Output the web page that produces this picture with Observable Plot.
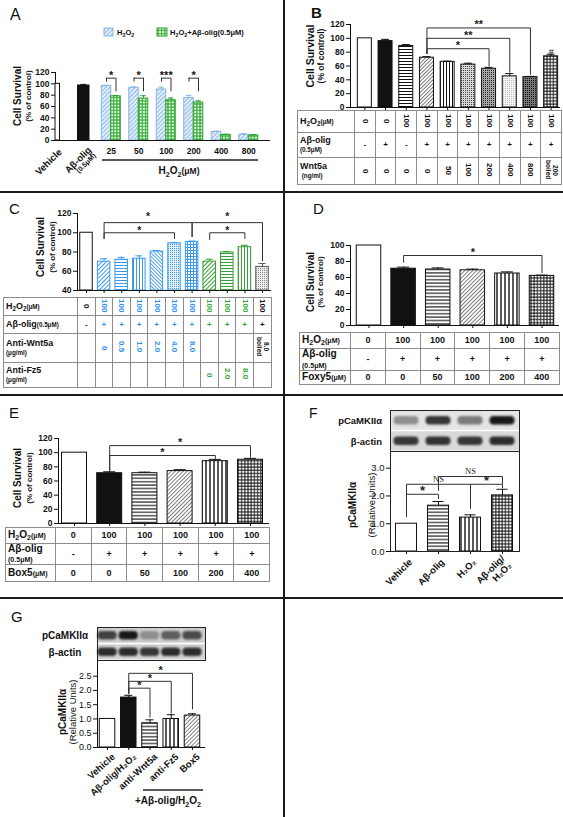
<!DOCTYPE html>
<html>
<head>
<meta charset="utf-8">
<script src="https://cdn.jsdelivr.net/npm/d3@7"></script>
<script src="https://cdn.jsdelivr.net/npm/@observablehq/plot@0.6"></script>
<style>
html, body { margin: 0; padding: 0; background: #fff; }
#fig { position: relative; width: 563px; height: 817px; overflow: hidden; background: #fff; font-family: "Liberation Sans", Arial, Helvetica, sans-serif; }
#fig > svg, #fig > table, #fig > div { position: absolute; }
table.t { border-collapse: collapse; table-layout: fixed; font-weight: bold; color: #111; }
table.t td { border: 1px solid #8c8c8c; padding: 0; text-align: center; vertical-align: middle; line-height: 1; white-space: nowrap; overflow: hidden; }
table.t td.lab { text-align: left; padding-left: 2px; font-size: 1.12em; }
table.t .u { font-size: 0.7em; }
table.t sub { font-size: 0.7em; vertical-align: -0.25em; line-height: 0; }
.v { writing-mode: vertical-rl; display: inline-block; }
.v.sm { font-size: 0.82em; line-height: 1; }
</style>
</head>
<body>
<div id="fig"></div>
<script>
// ================= DATA =================
// Panel A
const aGroups = ["Vehicle", "Aβ-olig", "25", "50", "100", "200", "400", "800"];
const aDoses = ["25", "50", "100", "200", "400", "800"];
const aControl = [100, 97];
const aControlErr = [0, 2];
const aH2O2 = [96, 93, 90, 75, 15, 10];
const aH2O2Err = [1.5, 1.5, 4, 4.5, 1.5, 2];
const aCombo = [78, 74, 71, 67, 10, 9];
const aComboErr = [1.5, 5, 4, 3, 1, 1.5];
const aSigDoses = ["25", "50", "100", "200"];
const aSigLabels = ["*", "*", "***", "*"];
const aBracketTop = 110, aBracketLeft = 103, aBracketRight = 86;
const aYTicks = [0, 20, 40, 60, 80, 100, 120];

// Panel B
const bIds = ["b1", "b2", "b3", "b4", "b5", "b6", "b7", "b8", "b9", "b10"];
const bValues = [100, 96, 89, 72, 66, 62, 56, 45, 44, 74];
const bErrors = [0, 2.5, 2, 1.5, 1, 2, 2, 4, 1, 3];
const bH2O2 = ["0", "0", "100", "100", "100", "100", "100", "100", "100", "100"];
const bAbeta = ["-", "+", "-", "+", "+", "+", "+", "+", "+", "+"];
const bWnt5a = ["0", "0", "0", "0", "50", "100", "200", "400", "800", "200\nboiled"];
const bSig = [
  {from: 3, to: 6, top: 85, left: 78, right: 60, label: "*"},
  {from: 3, to: 7, top: 100, left: 78, right: 51, label: "**"},
  {from: 3, to: 8, top: 115, left: 78, right: 48, label: "**"}
];
const bHashBar = 9, bHashY = 80;
const bYTicks = [0, 20, 40, 60, 80, 100, 120];

// Panel C
const cIds = ["c1", "c2", "c3", "c4", "c5", "c6", "c7", "c8", "c9", "c10", "c11"];
const cValues = [100, 70, 72, 73, 80.5, 89, 90.5, 70, 79.5, 85, 64.5];
const cErrors = [0, 3, 2.5, 3, 1, 0.8, 0.8, 2.5, 1, 2, 3.5];
const cH2O2 = ["0", "100", "100", "100", "100", "100", "100", "100", "100", "100", "100"];
const cAbeta = ["-", "+", "+", "+", "+", "+", "+", "+", "+", "+", "+"];
const cAntiWnt5a = ["", "0", "0.5", "1.0", "2.0", "4.0", "8.0", "", "", "", "8.0\nboiled"];
const cAntiFz5 = ["", "", "", "", "", "", "", "0", "2.0", "8.0", ""];
const cSig = [
  {from: 1, to: 6, top: 110.5, left: 94, right: 96, label: "*"},
  {from: 1, to: 5, top: 100, left: 94, right: 94, label: "*"},
  {from: 6, to: 10, top: 110.5, left: 96, right: 71, label: "*"},
  {from: 7, to: 9, top: 100, left: 93, right: 94, label: "*"}
];
const cYTicks = [40, 60, 80, 100, 120];

// Panel D
const dIds = ["d1", "d2", "d3", "d4", "d5", "d6"];
const dValues = [100, 71, 70, 69, 65, 62];
const dErrors = [0, 2, 2, 1.5, 2, 1];
const dH2O2 = ["0", "100", "100", "100", "100", "100"];
const dAbeta = ["-", "+", "+", "+", "+", "+"];
const dFoxy5 = ["0", "0", "50", "100", "200", "400"];
const dSig = [{from: 1, to: 5, top: 87.5, left: 79, right: 66, label: "*"}];
const dYTicks = [0, 20, 40, 60, 80, 100];

// Panel E
const eIds = ["e1", "e2", "e3", "e4", "e5", "e6"];
const eValues = [100, 71, 71, 74, 88, 90];
const eErrors = [0, 2, 1.5, 2, 2.5, 2];
const eH2O2 = ["0", "100", "100", "100", "100", "100"];
const eAbeta = ["-", "+", "+", "+", "+", "+"];
const eBox5 = ["0", "0", "50", "100", "200", "400"];
const eSig = [
  {from: 1, to: 5, top: 110, left: 75, right: 94, label: "*"},
  {from: 1, to: 4, top: 96, left: 75, right: 92, label: "*"}
];
const eYTicks = [0, 20, 40, 60, 80, 100, 120];

// Panel F
const fGroups = ["Vehicle", "Aβ-olig", "H₂O₂", "Aβ-olig/\nH₂O₂"];
const fValues = [1.0, 1.65, 1.22, 2.02];
const fErrors = [0, 0.15, 0.1, 0.22];
const fBlotP = [0.35, 0.8, 0.45, 0.95];
const fBlotActin = [0.8, 0.82, 0.8, 0.85];
const fSig = [
  {from: 0, to: 1, top: 2.06, left: 1.35, right: 1.9, label: "*"},
  {from: 0, to: 2, top: 2.42, left: 1.25, right: 1.55, label: "NS"},
  {from: 1, to: 3, top: 2.7, left: 2.2, right: 2.45, label: "NS"},
  {from: 2, to: 3, top: 2.42, left: 1.6, right: 2.3, label: "*"}
];
const fYTicks = [0, 1, 2, 3];

// Panel G
const gGroups = ["Vehicle", "Aβ-olig/H₂O₂", "anti-Wnt5a", "anti-Fz5", "Box5"];
const gValues = [1.0, 1.75, 0.85, 1.0, 1.12];
const gErrors = [0, 0.08, 0.12, 0.15, 0.06];
const gBlotP = [0.75, 0.95, 0.35, 0.6, 0.7];
const gBlotActin = [0.85, 0.85, 0.8, 0.85, 0.85];
const gSig = [
  {from: 1, to: 2, top: 2.08, left: 1.9, right: 1.06, label: "*"},
  {from: 1, to: 3, top: 2.32, left: 1.9, right: 1.2, label: "*"},
  {from: 1, to: 4, top: 2.6, left: 1.9, right: 1.35, label: "*"}
];
const gYTicks = [0, 0.5, 1, 1.5, 2, 2.5];

// ================= STYLES =================
const FONT = '"Liberation Sans", Arial, Helvetica, sans-serif';
const SERIF = '"Liberation Serif", "Times New Roman", serif';
const K = "#111", BLUE = "#3a9af0", GREEN = "#38a038", ABLUE = "#86b6e6", AGREEN = "#2ea02e";
const TBLUE = "#2d8fec", TGREEN = "#35a535";
const bFills = ["#fff", K, "url(#hl)", "url(#dg)", "url(#vl)", "url(#dot1)", "url(#dot2)", "url(#dot3)", "url(#dot4)", "url(#chk)"];
const cFills = ["#fff", "url(#cB1)", "url(#cB2)", "url(#cB3)", "url(#cB4)", "url(#cB5)", "url(#cB6)", "url(#cG1)", "url(#cG2)", "url(#cG3)", "url(#cGr)"];
const cStrokes = [K, BLUE, BLUE, BLUE, BLUE, BLUE, BLUE, GREEN, GREEN, GREEN, "#555"];
const cTextColors = [K, TBLUE, TBLUE, TBLUE, TBLUE, TBLUE, TBLUE, TGREEN, TGREEN, TGREEN, K];
const cStarDy = [-6.5, -2.5, -6.5, -2.5];
const deFills = ["#fff", K, "url(#hl4)", "url(#dgL)", "url(#vl4)", "url(#chk)"];
const fFills = ["#fff", "url(#hl4)", "url(#vl4)", "url(#chk)"];
const gFills = ["#fff", K, "url(#hl4)", "url(#vl4)", "url(#dgL)"];

const fig = document.getElementById("fig");
function place(node, left, top) { node.style.position = "absolute"; node.style.left = left + "px"; node.style.top = top + "px"; fig.appendChild(node); return node; }
const baseStyle = (extra = {}) => ({fontFamily: FONT, fontSize: "8.5px", fontWeight: "bold", color: "#111", background: "none", overflow: "visible", ...extra});

// ---------- patterns ----------
const P = [];
const lines = (id, {size = 3, angle = 0, color = K, width = 1, bg = "#fff"} = {}) => P.push(`<pattern id="${id}" patternUnits="userSpaceOnUse" width="${size}" height="${size}" patternTransform="rotate(${angle})"><rect width="${size}" height="${size}" fill="${bg}"/><line x1="-1" y1="${size / 2}" x2="${size + 1}" y2="${size / 2}" stroke="${color}" stroke-width="${width}"/></pattern>`);
const grid = (id, {size = 3, color = K, width = 1, bg = "#fff"} = {}) => P.push(`<pattern id="${id}" patternUnits="userSpaceOnUse" width="${size}" height="${size}"><rect width="${size}" height="${size}" fill="${bg}"/><path d="M0 ${size / 2}H${size}M${size / 2} 0V${size}" stroke="${color}" stroke-width="${width}" fill="none"/></pattern>`);
const dots = (id, {size = 2, color = K, d = 1, bg = "#fff"} = {}) => P.push(`<pattern id="${id}" patternUnits="userSpaceOnUse" width="${size}" height="${size}"><rect width="${size}" height="${size}" fill="${bg}"/><rect width="${d}" height="${d}" fill="${color}"/></pattern>`);
lines("aBlue", {angle: -45, color: "#8fbbe8", width: 1, bg: "#e3eefa", size: 3});
grid("aGreen", {color: "#30b030", width: 1.3, size: 3.2});
lines("hl", {size: 3, width: 1});
lines("hl4", {size: 3.4, width: 1.1});
lines("dg", {angle: -45, color: "#444", width: 0.7, size: 2.6});
lines("dgL", {angle: -45, color: "#555", width: 0.75, size: 2.8});
lines("vl", {angle: 90, size: 3, width: 1});
lines("vl4", {angle: 90, size: 4, width: 1.4});
dots("dot1", {color: "#444", bg: "#d8d8d8"});
dots("dot2", {color: "#222", bg: "#a8a8a8"});
dots("dot3", {color: "#bbb", bg: "#f4f4f4"});
dots("dot4", {color: "#111", bg: "#777"});
grid("chk", {size: 3.2, width: 1});
lines("cB1", {angle: -45, color: BLUE, size: 3});
lines("cB2", {color: BLUE, size: 3});
lines("cB3", {angle: 90, color: BLUE, size: 3});
lines("cB4", {angle: 45, color: BLUE, size: 2.6, width: 0.9});
dots("cB5", {color: BLUE, bg: "#e3f0fc"});
grid("cB6", {color: BLUE, size: 3});
lines("cG1", {angle: -45, color: GREEN, size: 3});
lines("cG2", {color: GREEN, size: 3});
lines("cG3", {angle: 90, color: GREEN, size: 3});
dots("cGr", {color: "#888", bg: "#efefef"});
fig.insertAdjacentHTML("beforeend", `<svg width="0" height="0" style="position:absolute;left:0;top:0"><defs>${P.join("")}</defs></svg>`);

// ---------- generic bar chart ----------
function barChart(o) {
  const n = o.ids.length;
  const step = (o.range[1] - o.range[0]) / n;
  const p = 1 - o.bw / step;
  const data = o.ids.map((id, i) => ({id, v: o.values[i], e: o.errors[i], fill: o.fills[i], stroke: o.strokes[i]}));
  const errs = data.filter(d => d.e > 0);
  const capIn = (o.bw - o.capW) / 2;
  const base = o.y.domain[0];
  const sig = o.sig || [];
  const pts = sig.flatMap((s, k) => [
    {k, x: o.ids[s.from], y: s.left}, {k, x: o.ids[s.from], y: s.top},
    {k, x: o.ids[s.to], y: s.top}, {k, x: o.ids[s.to], y: s.right}]);
  const sigText = sig.map((s, k) => {
    const ns = s.label === "NS";
    const dy = o.starDys ? o.starDys[k] : (ns ? -5 : (o.starDy ?? -3));
    return Plot.text([s], {x: () => o.ids[s.from], y: "top", text: "label", dx: (s.to - s.from) * step / 2,
      dy, fontSize: ns ? 8.5 : (o.starSize || 11), fontFamily: ns ? SERIF : FONT,
      fontWeight: ns ? "normal" : "bold", fill: "#222"});
  });
  return Plot.plot({
    width: o.W, height: o.H,
    marginTop: o.m[0], marginRight: o.m[1], marginBottom: o.m[2], marginLeft: o.m[3],
    style: baseStyle(o.style),
    x: {type: "band", domain: o.ids, range: o.range, paddingInner: p, paddingOuter: p / 2, align: 0.5, round: false, tickSize: 3, tickFormat: () => "", label: null},
    y: {domain: o.y.domain, ticks: o.y.ticks, tickFormat: o.y.format, tickSize: 4, tickPadding: 2, line: true, label: null},
    color: {type: "identity"},
    marks: [
      Plot.barY(data, {x: "id", y1: () => base, y2: "v", fill: "fill", stroke: "stroke", strokeWidth: 1}),
      Plot.ruleX(errs, {x: "id", y1: "v", y2: d => d.v + d.e, stroke: "stroke", strokeWidth: 1}),
      Plot.tickY(errs, {x: "id", y: d => d.v + d.e, stroke: "stroke", strokeWidth: 1, insetLeft: capIn, insetRight: capIn}),
      Plot.line(pts, {x: "x", y: "y", z: "k", stroke: "#333", strokeWidth: 1}),
      ...sigText,
      Plot.ruleY([base], {stroke: K, strokeWidth: 1.2}),
      ...(o.frame ? [Plot.frame({stroke: "#222"})] : []),
      ...(o.extra ? o.extra(data, step) : [])
    ]
  });
}

// ---------- blot ----------
function blot(o) {
  const rows = ["pCaMKIIα", "β-actin"];
  const bands = o.lanes.flatMap((l, i) => [{lane: l, row: rows[0], v: o.p[i]}, {lane: l, row: rows[1], v: o.a[i]}]);
  const svg = Plot.plot({
    width: o.W, height: o.H, marginTop: o.m[0], marginRight: o.m[1], marginBottom: o.m[2], marginLeft: o.m[3],
    style: baseStyle(),
    x: {type: "band", domain: o.lanes, range: o.range, padding: 0, round: false, axis: null},
    y: {type: "band", domain: rows, padding: 0, round: false, axis: null},
    color: {type: "linear", domain: [0, 1], range: ["#d4d4d4", "#0e0e0e"]},
    marks: [
      Plot.cell([rows[0]], {y: d => d, fill: o.pBg, insetTop: 0.5, insetBottom: 0.75}),
      Plot.cell([rows[1]], {y: d => d, fill: o.aBg, insetTop: 0.75, insetBottom: 0.5}),
      Plot.cell(bands, {x: "lane", y: "row", fill: "v", insetLeft: o.ix, insetRight: o.ix, insetTop: o.iy, insetBottom: o.iy, rx: 4}),
      Plot.frame({stroke: "#222"})
    ]
  });
  const gs = svg.querySelectorAll('g[aria-label="cell"]');
  if (gs.length) gs[gs.length - 1].style.filter = "blur(0.9px)";
  return svg;
}

// ---------- tables ----------
function table(o) {
  const t = document.createElement("table");
  t.className = "t";
  const n = o.rows[0].cells.length;
  t.style.width = (o.labelW + n * o.colW) + "px";
  t.style.fontSize = o.fontSize + "px";
  let html = `<colgroup><col style="width:${o.labelW}px">` + Array(n).fill(`<col style="width:${o.colW}px">`).join("") + `</colgroup>`;
  for (const r of o.rows) {
    html += `<tr style="height:${r.h}px"><td class="lab">${r.label}</td>` + r.cells.map((c, i) => {
      const col = o.colors ? o.colors[i] : K;
      let inner = c;
      if (c.includes("\n")) inner = `<span class="v sm">${c.replace("\n", "<br>")}</span>`;
      else if (r.rotate && c) inner = `<span class="v">${c}</span>`;
      return `<td style="color:${col}">${inner}</td>`;
    }).join("") + `</tr>`;
  }
  t.innerHTML = html;
  return place(t, o.left, o.top);
}
const H2O2html = `H<sub>2</sub>O<sub>2</sub><span class="u">(μM)</span>`;

// ================= PANEL A =================
(function () {
  const step = 27.5, bw = 19, half = bw / 4, capW = 5.5;
  const p = 1 - bw / step;
  const ctrl = aControl.map((v, i) => ({g: aGroups[i], v, e: aControlErr[i]}));
  const h = aDoses.map((g, i) => ({g, v: aH2O2[i], e: aH2O2Err[i]}));
  const c = aDoses.map((g, i) => ({g, v: aCombo[i], e: aComboErr[i]}));
  const sig = aSigDoses.map((g, i) => ({g, label: aSigLabels[i]}));
  const ctrlErr = ctrl.filter(d => d.e > 0);
  const svg = Plot.plot({
    width: 281, height: 191, marginLeft: 55, marginRight: 11, marginTop: 72, marginBottom: 51,
    style: baseStyle(),
    x: {type: "band", domain: aGroups, range: [42, 262], paddingInner: p, paddingOuter: p / 2, round: false, tickSize: 0, tickPadding: 7, tickFormat: d => aDoses.includes(d) ? d : "", label: null},
    y: {domain: [0, 120], ticks: aYTicks, tickSize: 4, tickPadding: 2, line: true, label: null},
    marks: [
      Plot.barY(ctrl.slice(0, 1), {x: "g", y: "v", fill: "#fff", stroke: K, insetLeft: 8.75, insetRight: 5.75}),
      Plot.barY(ctrl.slice(1), {x: "g", y: "v", fill: K, stroke: K, insetLeft: 3.75, insetRight: 3.75}),
      Plot.ruleX(ctrlErr, {x: "g", y1: "v", y2: d => d.v + d.e, stroke: K}),
      Plot.tickY(ctrlErr, {x: "g", y: d => d.v + d.e, stroke: K, insetLeft: 6.5, insetRight: 6.5}),
      Plot.barY(h, {x: "g", y: "v", fill: "url(#aBlue)", stroke: ABLUE, insetRight: bw / 2}),
      Plot.barY(c, {x: "g", y: "v", fill: "url(#aGreen)", stroke: AGREEN, insetLeft: bw / 2}),
      Plot.ruleX(h, {x: "g", y1: "v", y2: d => d.v + d.e, stroke: ABLUE, dx: -half}),
      Plot.tickY(h, {x: "g", y: d => d.v + d.e, stroke: ABLUE, insetLeft: half - capW / 2, insetRight: bw - half - capW / 2}),
      Plot.ruleX(c, {x: "g", y1: "v", y2: d => d.v + d.e, stroke: AGREEN, dx: half}),
      Plot.tickY(c, {x: "g", y: d => d.v + d.e, stroke: AGREEN, insetLeft: bw - half - capW / 2, insetRight: half - capW / 2}),
      Plot.ruleX(sig, {x: "g", y1: aBracketLeft, y2: aBracketTop, dx: -half, stroke: "#333"}),
      Plot.ruleX(sig, {x: "g", y1: aBracketRight, y2: aBracketTop, dx: half, stroke: "#333"}),
      Plot.tickY(sig, {x: "g", y: aBracketTop, insetLeft: half, insetRight: half, stroke: "#333"}),
      Plot.text(sig, {x: "g", y: aBracketTop, text: "label", dy: -3, fontSize: 11, fontWeight: "bold"}),
      Plot.ruleY([0], {stroke: K, strokeWidth: 1.2}),
      Plot.text([aGroups[0]], {x: d => d, y: () => 0, text: d => d, rotate: -45, textAnchor: "end", dx: 4, dy: 10, fontSize: 9.5, fontWeight: "bold"}),
      Plot.text([aGroups[1]], {x: d => d, y: () => 0, text: d => d, rotate: -45, textAnchor: "end", dx: 6, dy: 8, fontSize: 9.5, fontWeight: "bold"}),
      Plot.text([aGroups[1]], {x: d => d, y: () => 0, text: () => "(0.5μM)", rotate: -45, textAnchor: "end", dx: 11, dy: 14, fontSize: 7, fontWeight: "bold"})
    ]
  });
  place(svg, 0, 0);
})();

// ================= PANEL B =================
place(barChart({
  ids: bIds, values: bValues, errors: bErrors, fills: bFills, strokes: bIds.map(() => K),
  W: 280, H: 192, m: [24, 3, 85, 67], range: [71, 278], bw: 14, capW: 8,
  y: {domain: [0, 120], ticks: bYTicks}, sig: bSig, starSize: 11,
  extra: () => [Plot.text([bIds[bHashBar]], {x: d => d, y: () => bHashY, text: () => "#", fontSize: 9, fontWeight: "normal"})]
}), 283, 0);
table({left: 297, top: 110, labelW: 57, colW: 20.7, fontSize: 8, rows: [
  {label: H2O2html, h: 22, cells: bH2O2, rotate: true},
  {label: `Aβ-olig<br><span class="u">(0.5μM)</span>`, h: 25, cells: bAbeta},
  {label: `Wnt5a<br><span class="u">&nbsp;(ng/ml)</span>`, h: 27, cells: bWnt5a, rotate: true}
]});

// ================= PANEL C =================
place(barChart({
  ids: cIds, values: cValues, errors: cErrors, fills: cFills, strokes: cStrokes,
  W: 281, H: 202, m: [21, 10, 104, 77], range: [77.2, 270.8], bw: 12.5, capW: 7,
  y: {domain: [40, 120], ticks: cYTicks}, sig: cSig, starSize: 10.5, starDys: cStarDy
}), 0, 192);
table({left: 3, top: 297, labelW: 74, colW: 17.6, fontSize: 8, colors: cTextColors, rows: [
  {label: H2O2html, h: 18, cells: cH2O2, rotate: true},
  {label: `Aβ-olig<span class="u">(0.5μM)</span>`, h: 18, cells: cAbeta},
  {label: `Anti-Wnt5a<br><span class="u">(μg/ml)</span>`, h: 29, cells: cAntiWnt5a, rotate: true},
  {label: `Anti-Fz5<br><span class="u">(μg/ml)</span>`, h: 25, cells: cAntiFz5, rotate: true}
]});

// ================= PANEL D =================
place(barChart({
  ids: dIds, values: dValues, errors: dErrors, fills: deFills, strokes: dIds.map(() => K),
  W: 280, H: 201, m: [52, 4, 69, 67], range: [68.2, 275.8], bw: 24.5, capW: 12,
  y: {domain: [0, 100], ticks: dYTicks}, sig: dSig, starSize: 11
}), 283, 193);
table({left: 299, top: 332, labelW: 51, colW: 34.8, fontSize: 9, rows: [
  {label: H2O2html, h: 16, cells: dH2O2},
  {label: `Aβ-olig<br><span class="u">(0.5μM)</span>`, h: 22, cells: dAbeta},
  {label: `Foxy5<span class="u">(μM)</span>`, h: 14, cells: dFoxy5}
]});

// ================= PANEL E =================
place(barChart({
  ids: eIds, values: eValues, errors: eErrors, fills: deFills, strokes: eIds.map(() => K),
  W: 281, H: 203, m: [43, 12, 75, 58], range: [56.4, 267.6], bw: 25, capW: 12,
  y: {domain: [0, 120], ticks: eYTicks}, sig: eSig, starSize: 11
}), 0, 395);
table({left: 5, top: 527, labelW: 50, colW: 35.7, fontSize: 9, rows: [
  {label: H2O2html, h: 16, cells: eH2O2},
  {label: `Aβ-olig<br><span class="u">(0.5μM)</span>`, h: 20, cells: eAbeta},
  {label: `Box5<span class="u">(μM)</span>`, h: 17, cells: eBox5}
]});

// ================= PANEL F =================
place(blot({lanes: fGroups, p: fBlotP, a: fBlotActin, W: 280, H: 60, m: [15, 44, 4, 107], range: [107, 235], pBg: "#e4e4e4", aBg: "#d9d9d9", ix: 3.5, iy: 6}), 283, 395);
place(barChart({
  ids: fGroups, values: fValues, errors: fErrors, fills: fFills, strokes: fGroups.map(() => K),
  W: 280, H: 203, m: [56, 44, 47, 107], range: [107, 235], bw: 21, capW: 11,
  y: {domain: [0, 3.6], ticks: fYTicks}, sig: fSig, starSize: 13, frame: true,
  style: {fontWeight: "normal", fontSize: "9.5px"},
  extra: (data) => [Plot.text(data, {x: "id", y: () => 0, text: "id", rotate: -45, textAnchor: "end", dx: 4, dy: 9, fontSize: 9.5, fontWeight: "bold", lineHeight: 1.05})]
}), 283, 395);

// ================= PANEL G =================
place(blot({lanes: gGroups, p: gBlotP, a: gBlotActin, W: 281, H: 62, m: [28, 76, 1, 97], range: [96.4, 202.6], pBg: "#cfcfcf", aBg: "#d4d4d4", ix: 1, iy: 4}), 0, 599);
place(barChart({
  ids: gGroups, values: gValues, errors: gErrors, fills: gFills, strokes: gGroups.map(() => K),
  W: 281, H: 218, m: [61, 76, 70, 97], range: [96.4, 202.6], bw: 15.5, capW: 8,
  y: {domain: [0, 3.05], ticks: gYTicks, format: d3.format(".1f")}, sig: gSig, starSize: 11,
  style: {fontWeight: "normal", fontSize: "9px"},
  extra: (data) => [Plot.text(data, {x: "id", y: () => 0, text: "id", rotate: -42, textAnchor: "end", dx: 6, dy: 8, fontSize: 9.5, fontWeight: "bold"})]
}), 0, 599);

// ================= DIVIDERS =================
function rule(l, t, w, h) { const d = document.createElement("div"); d.style.width = w + "px"; d.style.height = h + "px"; d.style.background = "#1a1a1a"; place(d, l, t); }
rule(283, 0, 2, 817);
rule(0, 191, 563, 2);
rule(0, 394, 563, 2);
rule(0, 597, 563, 2);

// ================= OVERLAY TEXT =================
const O = [];
function t(x, y, s, o = {}) {
  const {size = 10, weight = "bold", anchor = "start", rot = 0, family = FONT, fill = "#111"} = o;
  O.push(`<text x="${x}" y="${y}" font-size="${size}" font-weight="${weight}" text-anchor="${anchor}" font-family='${family}' fill="${fill}"${rot ? ` transform="rotate(${rot} ${x} ${y})"` : ""}>${s}</text>`);
}
// H2O2 with subscripts; `tail` continues on the restored baseline
function chem(size, tail = "", tailSize = size) {
  const d = (size * 0.28).toFixed(1), fs = (size * 0.72).toFixed(1);
  let s = `H<tspan font-size="${fs}" dy="${d}">2</tspan><tspan dy="-${d}">O</tspan><tspan font-size="${fs}" dy="${d}">2</tspan>`;
  if (tail) s += `<tspan dy="-${d}" font-size="${tailSize}">${tail}</tspan>`;
  return s;
}
function ylab(cx, cy, s1, s2, cx2, size1 = 10, size2 = 8, w2 = "bold") {
  t(cx + size1 * 0.36, cy, s1, {size: size1, anchor: "middle", rot: -90});
  t(cx2 + size2 * 0.36, cy, s2, {size: size2, anchor: "middle", rot: -90, weight: w2});
}
// panel letters
t(10, 20, "A", {size: 16, weight: "normal"});
t(311, 18, "B", {size: 15});
t(9, 214, "C", {size: 15, weight: "normal"});
t(313, 214, "D", {size: 15, weight: "normal"});
t(9, 418, "E", {size: 15, weight: "normal"});
t(309, 418, "F", {size: 14, weight: "normal"});
t(11, 622, "G", {size: 15, weight: "normal"});
// y-axis titles
ylab(17.5, 96, "Cell Survival", "(% of control)", 28.5);
ylab(310, 56, "Cell Survival", "(% of control)", 321, 10.5, 8.5);
ylab(40, 247, "Cell Survival", "(% of control)", 52);
ylab(310, 282, "Cell Survival", "(% of control)", 320);
ylab(17.5, 478, "Cell Survival", "(% of control)", 29.5);
ylab(352, 505, "pCaMKIIα", "(Relative Units)", 372, 10, 9.5, "normal");
ylab(62, 712, "pCaMKIIα", "(Relative Units)", 72.5, 10, 9.5, "normal");
// legend A
O.push(`<rect x="104" y="28" width="9" height="8" fill="url(#aBlue)" stroke="${ABLUE}"/>`);
t(117, 35, chem(7.5), {size: 7.5});
O.push(`<rect x="157" y="28" width="10" height="8" fill="url(#aGreen)" stroke="${AGREEN}"/>`);
t(170, 35, chem(7.5, "+Aβ-olig(0.5μM)"), {size: 7.5});
// A x title
O.push(`<line x1="102" y1="160" x2="258" y2="160" stroke="#222" stroke-width="1.3"/>`);
t(179, 174, chem(10, "(μM)", 8.5), {size: 10, anchor: "middle"});
// blot labels
t(382, 423.5, "pCaMKIIα", {size: 9.5, anchor: "end"});
t(382, 444.5, "β-actin", {size: 9.5, anchor: "end"});
t(65, 638.5, "pCaMKIIα", {size: 10, anchor: "middle"});
t(65, 655.5, "β-actin", {size: 10, anchor: "middle"});
// G grouping
O.push(`<line x1="143" y1="790" x2="203" y2="790" stroke="#222" stroke-width="1.5"/>`);
t(168, 804, "+Aβ-olig/" + chem(10), {size: 10, anchor: "middle"});
fig.insertAdjacentHTML("beforeend", `<svg width="563" height="817" style="position:absolute;left:0;top:0;pointer-events:none;overflow:visible">${O.join("")}</svg>`);
</script>
</body>
</html>
